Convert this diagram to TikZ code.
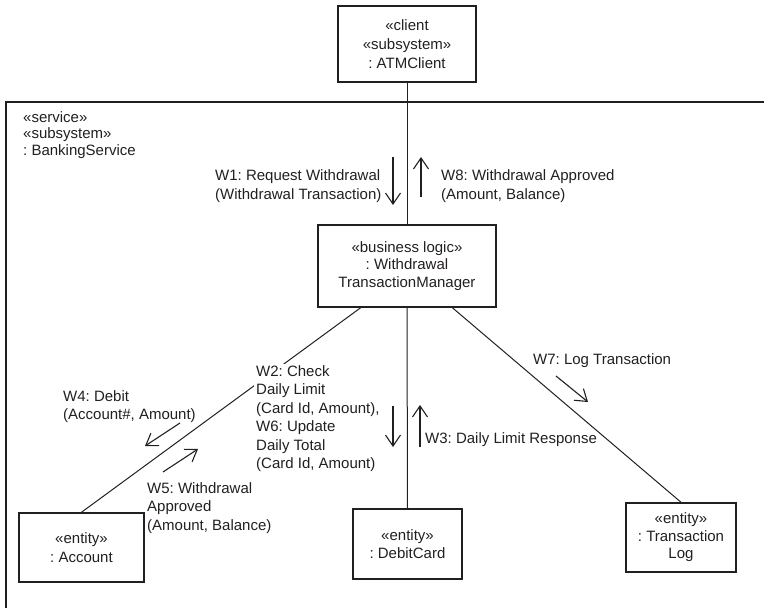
\documentclass[tikz,border=0pt]{standalone}
\usepackage{fontspec}
\setmainfont{Liberation Sans}
\usetikzlibrary{arrows.meta,calc}
\definecolor{ink}{RGB}{35,31,32}
\frenchspacing
\begin{document}
\frenchspacing
\begin{tikzpicture}[x=1pt,y=-1pt, text=ink,
  lbl/.style={inner sep=0pt, anchor=north west, align=left},
  ubox/.style={draw=ink, line width=1.5pt, inner sep=0pt, align=center},
  conn/.style={draw=ink, line width=1pt},
  msg/.style={draw=ink, line width=1.1pt, -{Straight Barb[length=11pt,width=15pt]}},
  font=\fontsize{15}{18}\selectfont\frenchspacing]
\useasboundingbox (0,0) rectangle (764,608);
\clip (0,0) rectangle (764,608);
% frame of the banking service subsystem
\draw[ink, line width=1.8pt] (6,640) -- (6,102) -- (800,102);
% boxes
\node[ubox, minimum width=138pt, minimum height=76pt, font=\fontsize{15}{19}\selectfont\frenchspacing] (atm) at (407,44) {«client\\«subsystem»\\: ATMClient};
\node[ubox, minimum width=178pt, minimum height=82pt, font=\fontsize{15}{17.5}\selectfont\frenchspacing] (wtm) at (407,266) {«business logic»\\: Withdrawal\\TransactionManager};
\node[ubox, minimum width=125pt, minimum height=69pt, font=\fontsize{15}{19}\selectfont\frenchspacing] (acc) at (81.5,547.5) {«entity»\\: Account};
\node[ubox, minimum width=109pt, minimum height=70pt, font=\fontsize{15}{17.5}\selectfont\frenchspacing] (dc) at (407.5,544) {«entity»\\: DebitCard};
\node[ubox, minimum width=110pt, minimum height=69pt, font=\fontsize{15}{17.5}\selectfont\frenchspacing] (tl) at (681,537.5) {«entity»\\: Transaction\\Log};
% connectors
\coordinate (wl) at ($(wtm.south west)!0.2416!(wtm.south east)$);
\coordinate (wr) at ($(wtm.south west)!0.753!(wtm.south east)$);
\draw[conn] (atm.south) -- (wtm.north);
\draw[conn] (wl) -- (acc.north);
\draw[conn] (wtm.south) -- (dc.north);
\draw[conn] (wr) -- (tl.north);
% message arrows
\coordinate (w1a) at (393,157); \coordinate (w1b) at (393,205);
\coordinate (w8a) at (421,197); \coordinate (w8b) at (421,157);
\coordinate (w2a) at (393,406); \coordinate (w2b) at (393,447);
\coordinate (w3a) at (420,447); \coordinate (w3b) at (420,405);
\coordinate (w4a) at (180,423); \coordinate (w4b) at (145,446);
\coordinate (w5a) at (163,472); \coordinate (w5b) at (198,449);
\coordinate (w7a) at (556,376); \coordinate (w7b) at (588,402);
\draw[msg] (w1a) -- (w1b);
\draw[msg] (w8a) -- (w8b);
\draw[msg] (w2a) -- (w2b);
\draw[msg] (w3a) -- (w3b);
\draw[msg] (w4a) -- (w4b);
\draw[msg] (w5a) -- (w5b);
\draw[msg] (w7a) -- (w7b);
% labels
\node[lbl, font=\fontsize{15}{16.5}\selectfont\frenchspacing] (svc) at (23,111.4) {«service»\\«subsystem»\\: BankingService};
\node[lbl, font=\fontsize{15}{19.5}\selectfont\frenchspacing] (l1) at (215,169.4) {W1: Request Withdrawal\\(Withdrawal Transaction)};
\node[lbl, font=\fontsize{15}{19.5}\selectfont\frenchspacing] (l8) at (441,169.4) {W8: Withdrawal Approved\\(Amount, Balance)};
\node[lbl, fill=white, inner sep=2pt, font=\fontsize{15}{18.4}\selectfont\frenchspacing] (l2) at (254,363.4) {W2: Check\\Daily Limit\\(Card Id, Amount),\\W6: Update\\Daily Total\\(Card Id, Amount)};
\node[lbl] (l3) at (425,432.4) {W3: Daily Limit Response};
\node[lbl] (l4) at (63,390.4) {W4: Debit\\(Account\#, Amount)};
\node[lbl, font=\fontsize{15}{18.5}\selectfont\frenchspacing] (l5) at (147,482.4) {W5: Withdrawal\\Approved\\(Amount, Balance)};
\node[lbl] (l7) at (533,353.4) {W7: Log Transaction};
\end{tikzpicture}
\end{document}
